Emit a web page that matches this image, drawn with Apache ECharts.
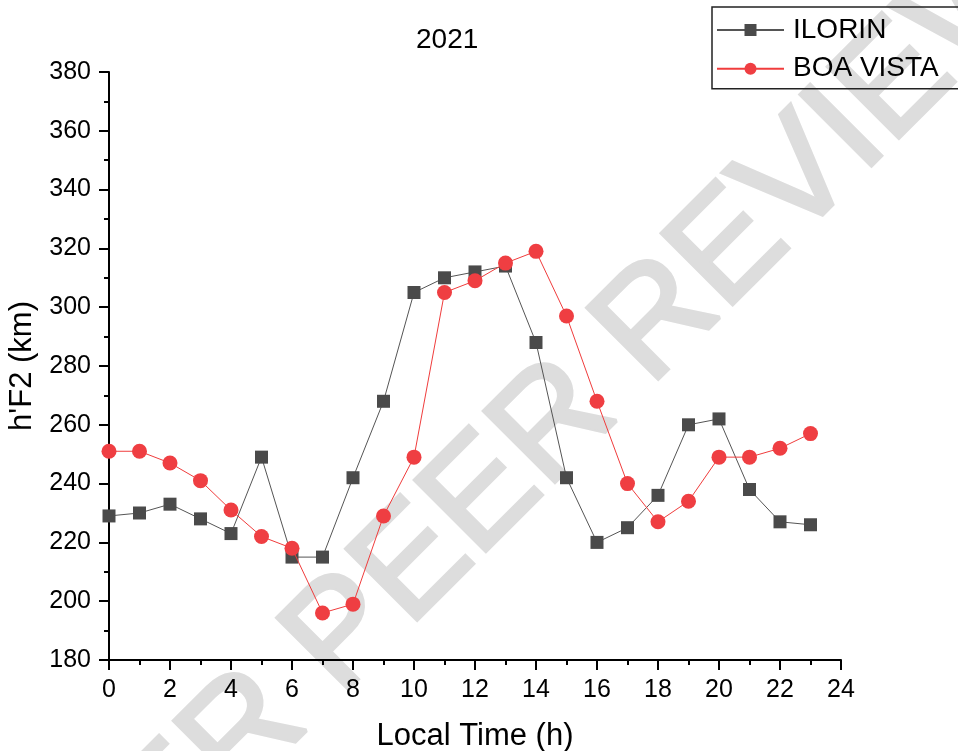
<!DOCTYPE html>
<html>
<head>
<meta charset="utf-8">
<script src="https://cdn.jsdelivr.net/npm/echarts@6/dist/echarts.min.js"></script>
<style>
html,body{margin:0;padding:0;background:#fff;}
#chart{width:958px;height:751px;}
</style>
</head>
<body>
<div id="chart"></div>
<script>
const hours = [0,1,2,3,4,5,6,7,8,9,10,11,12,13,14,15,16,17,18,19,20,21,22,23];
const ilorin = [229,230,233,228,223,249,215,215,242,268,305,310,312,314,288,242,220,225,236,260,262,238,227,226];
const boaVista = [251,251,247,241,231,222,218,196,199,229,249,305,309,315,319,297,268,240,227,234,249,249,252,257];
const seriesNames = ['ILORIN','BOA VISTA'];
const titleText = '2021';
const xName = 'Local Time (h)';
const yName = "h'F2 (km)";
const watermark = 'UNDER PEER REVIEW';

const FONT = '"Liberation Sans", Arial, sans-serif';
const chart = echarts.init(document.getElementById('chart'), null, {renderer:'canvas'});

const pairs = arr => hours.map((h,i)=>[h,arr[i]]);

chart.setOption({
  animation:false,
  backgroundColor:'#fff',
  title:{
    text:titleText, left:416, top:26, padding:0,
    textStyle:{fontFamily:FONT, fontSize:28, fontWeight:'normal', color:'#000'}
  },
  legend:{
    orient:'vertical', left:712, top:7,
    padding:[8,40,5,4],
    borderColor:'#222', borderWidth:1.5,
    itemWidth:67, itemHeight:15, itemGap:8.7,
    textStyle:{fontFamily:FONT, fontSize:28, color:'#000', lineHeight:30, padding:[0,0,0,4]},
    data:seriesNames
  },
  graphic:[{
    type:'text', z:-1,
    x:472, y:508, rotation:Math.PI/4,
    style:{text:watermark, fontFamily:FONT, fontSize:146, fontWeight:'normal', fill:'#dddddd',
      stroke:'#dddddd', lineWidth:4,
      textAlign:'center', textVerticalAlign:'middle'}
  }],
  grid:{left:109, right:117, top:72, bottom:91, containLabel:false, outerBoundsMode:'none'},
  xAxis:{
    type:'value', min:0, max:24, interval:2,
    name:xName, nameLocation:'middle', nameGap:61,
    nameTextStyle:{fontFamily:FONT, fontSize:31, color:'#000'},
    axisLine:{show:true, onZero:false, lineStyle:{color:'#000', width:2}},
    axisTick:{show:true, inside:false, length:10, lineStyle:{color:'#000', width:2}},
    minorTick:{show:true, splitNumber:2, length:5, lineStyle:{color:'#000', width:2}},
    axisLabel:{fontFamily:FONT, fontSize:25, color:'#000', margin:18},
    splitLine:{show:false}
  },
  yAxis:{
    type:'value', min:180, max:380, interval:20,
    name:yName, nameLocation:'middle', nameGap:67,
    nameTextStyle:{fontFamily:FONT, fontSize:31, color:'#000'},
    axisLine:{show:true, onZero:false, lineStyle:{color:'#000', width:2}},
    axisTick:{show:true, inside:false, length:10, lineStyle:{color:'#000', width:2}},
    minorTick:{show:true, splitNumber:2, length:5, lineStyle:{color:'#000', width:2}},
    axisLabel:{fontFamily:FONT, fontSize:25, color:'#000', margin:18},
    splitLine:{show:false}
  },
  series:[
    {
      name:seriesNames[0], type:'line', data:pairs(ilorin),
      symbol:'rect', symbolSize:13, showSymbol:true,
      lineStyle:{color:'#555555', width:1},
      itemStyle:{color:'#4a4a4a'},
      z:3
    },
    {
      name:seriesNames[1], type:'line', data:pairs(boaVista),
      symbol:'circle', symbolSize:15, showSymbol:true,
      lineStyle:{color:'#f03c3c', width:1},
      itemStyle:{color:'#ef3e42'},
      z:4
    }
  ]
});
</script>
</body>
</html>
